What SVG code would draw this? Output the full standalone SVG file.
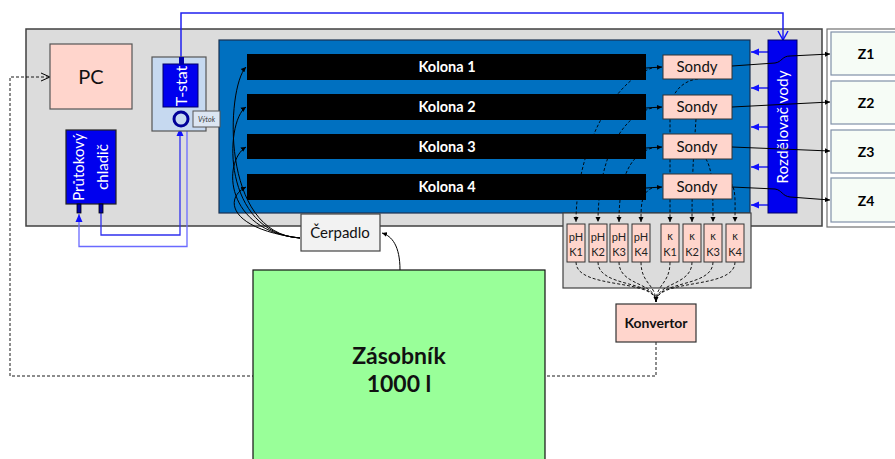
<svg xmlns="http://www.w3.org/2000/svg" width="895" height="459" viewBox="0 0 895 459">
<style>
text{font-family:Lato,"Open Sans","Liberation Sans",sans-serif}
.w{fill:#fff}
.c{text-anchor:middle}
.dash{fill:none;stroke:#000;stroke-width:0.9;stroke-dasharray:3,2}
.sol{fill:none;stroke:#000;stroke-width:1}
.blu{fill:none;stroke:#2020f0;stroke-width:1.5}
.pr{fill:#ffd5cc;stroke:#333;stroke-width:1}
</style>
<defs>
<marker id="ab" markerUnits="userSpaceOnUse" markerWidth="8" markerHeight="8" refX="7" refY="4" orient="auto"><path d="M0,1 L7,4 L0,7 z" fill="#000"/></marker>
<marker id="as" markerUnits="userSpaceOnUse" markerWidth="6" markerHeight="6" refX="5" refY="3" orient="auto"><path d="M0,0.5 L5,3 L0,5.5 z" fill="#000"/></marker>
<marker id="abl" markerUnits="userSpaceOnUse" markerWidth="9" markerHeight="9" refX="8" refY="4.5" orient="auto"><path d="M0,1 L8,4.5 L0,8 z" fill="#1010ff"/></marker>
<marker id="aopen" markerUnits="userSpaceOnUse" markerWidth="12" markerHeight="12" refX="10" refY="6" orient="auto"><path d="M1,1 L10,6 L1,11" fill="none" stroke="#1010ff" stroke-width="1.5"/></marker>
<marker id="aopk" markerUnits="userSpaceOnUse" markerWidth="12" markerHeight="12" refX="10" refY="6" orient="auto"><path d="M1,2 L10,6 L1,10" fill="none" stroke="#000" stroke-width="1"/></marker>
</defs>

<g id="background">
<rect x="26" y="29" width="796" height="197" fill="#dcdcdc" stroke="#404040" stroke-width="1.5"/>
<rect x="827" y="29" width="80" height="198" fill="#fff" stroke="#707070" stroke-width="1.2"/>
</g>

<g id="connectors-back">
<path class="dash" d="M656,342 L656,376 L10,376 L10,77 L50,77" marker-end="url(#aopk)"/>
<path class="blu" d="M181,57 L181,13 L783,13 L783,40" marker-end="url(#aopen)"/>
</g>

<g id="main-panel">
<rect x="219" y="40" width="531" height="173" fill="#0070c0" stroke="#1a3050" stroke-width="1.2"/>
</g>

<g id="probe-panel">
<rect x="563" y="213" width="188" height="75" fill="#dcdcdc" stroke="#404040" stroke-width="1.2"/>
</g>

<g id="connectors">
<path class="sol" d="M300,238 C220,234 226,88 246,67" marker-end="url(#as)"/>
<path class="sol" d="M300,238 C222,233 224,122 246,107" marker-end="url(#as)"/>
<path class="sol" d="M300,238 C225,231 222,162 246,147" marker-end="url(#as)"/>
<path class="sol" d="M300,238 C228,229 224,198 246,187" marker-end="url(#as)"/>
<path class="dash" d="M652,68 C612,82 576,150 576,222" marker-end="url(#as)"/>
<path class="dash" d="M652,108 C616,118 598,168 598,222" marker-end="url(#as)"/>
<path class="dash" d="M652,148 C626,156 619,185 619,222" marker-end="url(#as)"/>
<path class="dash" d="M652,188 C641,193 641,205 641,222" marker-end="url(#as)"/>
<path class="dash" d="M698,79 C684,80 670,92 670,112 L670,222" marker-end="url(#as)"/>
<path class="dash" d="M696,119 C694,150 692,170 692,222" marker-end="url(#as)"/>
<path class="dash" d="M706,159 C712,170 713,182 713,222" marker-end="url(#as)"/>
<path class="dash" d="M731,183 C736,190 735,200 735,222" marker-end="url(#as)"/>
<path class="sol" d="M646,68 L662,67" marker-end="url(#as)"/>
<path class="sol" d="M646,108 L662,107" marker-end="url(#as)"/>
<path class="sol" d="M646,148 L662,147" marker-end="url(#as)"/>
<path class="sol" d="M646,188 L662,187" marker-end="url(#as)"/>
<path class="blu" d="M768,52 L751,52" marker-end="url(#abl)"/>
<path class="blu" d="M768,88 L751,88" marker-end="url(#abl)"/>
<path class="blu" d="M768,127 L751,127" marker-end="url(#abl)"/>
<path class="blu" d="M768,167 L751,167" marker-end="url(#abl)"/>
<path class="blu" d="M768,205 L751,205" marker-end="url(#abl)"/>
<path class="dash" d="M576,262 C576,290 656,278 656,302" marker-end="url(#as)"/>
<path class="dash" d="M598,262 C598,288 656,280 656,302"/>
<path class="dash" d="M619,262 C619,286 656,282 656,302"/>
<path class="dash" d="M641,262 C641,284 656,284 656,302"/>
<path class="dash" d="M670,262 C670,284 656,284 656,302"/>
<path class="dash" d="M692,262 C692,286 656,282 656,302"/>
<path class="dash" d="M713,262 C713,288 656,280 656,302"/>
<path class="dash" d="M735,262 C735,290 656,278 656,302"/>
<path d="M101,213 L101,235 L180,235 L180,128" fill="none" stroke="#3030ee" stroke-width="1.3" marker-end="url(#abl)"/>
<path d="M187,126 L187,246.5 L79,246.5 L79,214" fill="none" stroke="#6a6aff" stroke-width="1.3" marker-end="url(#abl)"/>
<path class="sol" d="M400,270 C400,246 392,236 382,233" marker-end="url(#as)"/>
</g>

<g id="kolony">
<rect x="247" y="54" width="399" height="26" fill="#000"/>
<rect x="247" y="94" width="399" height="26" fill="#000"/>
<rect x="247" y="134" width="399" height="25" fill="#000"/>
<rect x="247" y="174" width="399" height="26" fill="#000"/>
<text class="w c" x="447" y="72" font-size="14.5" font-weight="bold">Kolona 1</text>
<text class="w c" x="447" y="112" font-size="14.5" font-weight="bold">Kolona 2</text>
<text class="w c" x="447" y="152" font-size="14.5" font-weight="bold">Kolona 3</text>
<text class="w c" x="447" y="192" font-size="14.5" font-weight="bold">Kolona 4</text>
</g>

<g id="sondy">
<rect class="pr" x="663" y="55" width="69" height="24" stroke="#888"/>
<rect class="pr" x="663" y="95" width="69" height="24" stroke="#888"/>
<rect class="pr" x="663" y="134" width="69" height="25" stroke="#888"/>
<rect class="pr" x="663" y="174" width="69" height="25" stroke="#888"/>
<text class="c" x="697" y="72" font-size="15" fill="#111">Sondy</text>
<text class="c" x="697" y="112" font-size="15" fill="#111">Sondy</text>
<text class="c" x="697" y="152" font-size="15" fill="#111">Sondy</text>
<text class="c" x="697" y="192" font-size="15" fill="#111">Sondy</text>
</g>

<g id="rozdelovac">
<rect x="768" y="40" width="29" height="173" fill="#0000ee" stroke="#000066" stroke-width="1"/>
<text class="w c" transform="translate(783,127) rotate(-90)" x="0" y="5" font-size="15.5">Rozdělovač vody</text>
</g>

<g id="sondy-to-z">
<path class="sol" d="M732,66 L775,63 C782,62 782,56 790,56 L830,54" marker-end="url(#as)"/>
<path class="sol" d="M732,107 L830,102" marker-end="url(#as)"/>
<path class="sol" d="M732,147 L830,151" marker-end="url(#as)"/>
<path class="sol" d="M732,187 L775,189 C782,190 782,196 790,197 L830,200" marker-end="url(#as)"/>
</g>

<g id="z-boxes">
<rect x="831" y="32" width="70" height="43" fill="#f6fcf6" stroke="#8090a8" stroke-width="1.2"/>
<rect x="831" y="81" width="70" height="43" fill="#f6fcf6" stroke="#8090a8" stroke-width="1.2"/>
<rect x="831" y="130" width="70" height="43" fill="#f6fcf6" stroke="#8090a8" stroke-width="1.2"/>
<rect x="831" y="178" width="70" height="44" fill="#f6fcf6" stroke="#8090a8" stroke-width="1.2"/>
<text class="c" x="866" y="59" font-size="14" font-weight="bold">Z1</text>
<text class="c" x="866" y="108" font-size="14" font-weight="bold">Z2</text>
<text class="c" x="866" y="157" font-size="14" font-weight="bold">Z3</text>
<text class="c" x="866" y="206" font-size="14" font-weight="bold">Z4</text>
</g>

<g id="pc">
<rect x="50" y="44" width="82" height="65" fill="#ffd5cc" stroke="#555" stroke-width="1.2"/>
<text class="c" x="91" y="84" font-size="20" fill="#111">PC</text>
</g>

<g id="tstat">
<rect x="152" y="57" width="54" height="74" fill="#c6d9f0" stroke="#555" stroke-width="1.2"/>
<rect x="163" y="64" width="35" height="43" fill="#0000ee" stroke="#000066" stroke-width="1"/>
<rect x="179" y="57" width="5" height="7" fill="#0000aa"/>
<text class="w c" transform="translate(181,86) rotate(-90)" x="0" y="5.5" font-size="16">T-stat</text>
<circle cx="181" cy="119" r="7" fill="#c6d9f0" stroke="#000099" stroke-width="3"/>
<rect x="193" y="111" width="27" height="16" fill="#dce6f2" stroke="#555" stroke-width="1"/>
<text class="c" x="206.5" y="122" font-size="7" font-style="italic" fill="#333">Výtok</text>
</g>

<g id="chladic">
<rect x="66" y="130" width="50" height="74" fill="#0000ee" stroke="#222" stroke-width="1.2"/>
<rect x="77" y="204" width="4" height="9" fill="#0000aa" stroke="#000" stroke-width="0.8"/>
<rect x="99" y="204" width="4" height="9" fill="#0000aa" stroke="#000" stroke-width="0.8"/>
<text class="w c" transform="translate(91,167) rotate(-90)" x="0" y="-7" font-size="15">Průtokový</text>
<text class="w c" transform="translate(91,167) rotate(-90)" x="0" y="17" font-size="15">chladič</text>
</g>

<g id="probes">
<rect class="pr" x="567" y="224" width="18" height="38"/>
<rect class="pr" x="589" y="224" width="18" height="38"/>
<rect class="pr" x="610" y="224" width="18" height="38"/>
<rect class="pr" x="632" y="224" width="18" height="38"/>
<rect class="pr" x="661" y="224" width="18" height="38"/>
<rect class="pr" x="683" y="224" width="18" height="38"/>
<rect class="pr" x="704" y="224" width="18" height="38"/>
<rect class="pr" x="726" y="224" width="18" height="38"/>
<g font-size="11" fill="#222" text-anchor="middle">
<text x="576" y="241">pH</text><text x="576" y="256">K1</text>
<text x="598" y="241">pH</text><text x="598" y="256">K2</text>
<text x="619" y="241">pH</text><text x="619" y="256">K3</text>
<text x="641" y="241">pH</text><text x="641" y="256">K4</text>
<text x="670" y="240">κ</text><text x="670" y="256">K1</text>
<text x="692" y="240">κ</text><text x="692" y="256">K2</text>
<text x="713" y="240">κ</text><text x="713" y="256">K3</text>
<text x="735" y="240">κ</text><text x="735" y="256">K4</text>
</g>
</g>

<g id="konvertor">
<rect x="616" y="304" width="80" height="38" fill="#ffd5cc" stroke="#333" stroke-width="1.2"/>
<text class="c" x="656" y="328" font-size="14" font-weight="bold" fill="#111">Konvertor</text>
</g>

<g id="cerpadlo">
<rect x="301" y="214" width="79" height="37" fill="#f2f2f2" stroke="#444" stroke-width="1.2"/>
<text class="c" x="340" y="238" font-size="15" fill="#111">Čerpadlo</text>
</g>

<g id="zasobnik">
<rect x="253" y="270" width="292" height="195" fill="#99ff99" stroke="#111" stroke-width="1.2"/>
<text class="c" x="399" y="364" font-size="23" font-weight="bold" fill="#111">Zásobník</text>
<text class="c" x="399" y="392" font-size="23" font-weight="bold" fill="#111">1000 l</text>
</g>
</svg>
